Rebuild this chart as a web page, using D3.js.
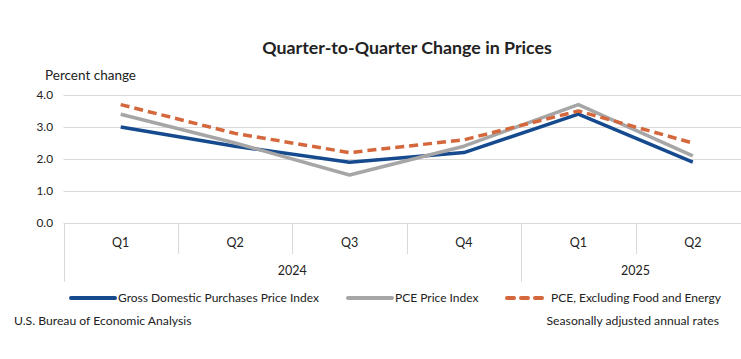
<!DOCTYPE html>
<html><head><meta charset="utf-8">
<script src="https://cdn.jsdelivr.net/npm/d3@7"></script>
<style>
body{margin:0;background:#fff;}
svg text{font-family:Lato,"Open Sans",sans-serif;fill:#222;}
</style></head>
<body><svg id="c" width="741" height="359"></svg>
<script>
const quarters = ["Q1","Q2","Q3","Q4","Q1","Q2"];
const years = [{label:"2024", n:4},{label:"2025", n:2}];
const gdpPurchases = [3.0, 2.4, 1.9, 2.2, 3.4, 1.9];
const pce = [3.4, 2.5, 1.5, 2.4, 3.7, 2.1];
const pceCore = [3.7, 2.8, 2.2, 2.6, 3.5, 2.5];
const yTicks = [0, 1, 2, 3, 4];
const seriesNames = ["Gross Domestic Purchases Price Index","PCE Price Index","PCE, Excluding Food and Energy"];
const colors = ["#164a8e","#a6a6a6","#d4673c"];

(function(){
const svg = d3.select("#c");
const pLeft = 63.5, pRight = 750, pTop = 95, pBottom = 223;
const idx = d3.range(quarters.length);
const x = d3.scaleBand().domain(idx).range([pLeft, pRight]);
const y = d3.scaleLinear().domain([0,4]).range([pBottom, pTop]);

svg.append("text").attr("x",407).attr("y",54).attr("text-anchor","middle")
  .style("font-weight","bold").style("font-size","17.8px").text("Quarter-to-Quarter Change in Prices");
svg.append("text").attr("x",45).attr("y",80).style("font-size","13.5px").text("Percent change");

svg.append("g").selectAll("line").data(yTicks.filter(d=>d>0)).join("line")
  .attr("x1",pLeft).attr("x2",pRight).attr("y1",d=>y(d)+0.5).attr("y2",d=>y(d)+0.5)
  .attr("stroke","#d9d9d9").attr("stroke-width",1);
svg.append("g").selectAll("text").data(yTicks).join("text")
  .attr("x",53).attr("y",d=>y(d)+4).attr("text-anchor","end").style("font-size","11.8px")
  .text(d=>d.toFixed(1));

const ax = svg.append("g");
ax.append("line").attr("x1",pLeft).attr("x2",pRight).attr("y1",pBottom+0.5).attr("y2",pBottom+0.5).attr("stroke","#d9d9d9");
let start = 0;
const yearBounds = [0];
years.forEach(yr=>{start+=yr.n; yearBounds.push(start);});
idx.forEach(i=>{
  const xb = x(i);
  const isYear = yearBounds.includes(i);
  ax.append("line").attr("x1",Math.round(xb)+0.5).attr("x2",Math.round(xb)+0.5)
    .attr("y1",pBottom).attr("y2",isYear?282:254).attr("stroke","#d9d9d9");
});
ax.selectAll("text.q").data(idx).join("text").attr("class","q")
  .attr("x",i=>x(i)+x.bandwidth()/2).attr("y",247).attr("text-anchor","middle").style("font-size","12.5px")
  .text(i=>quarters[i]);
let s = 0;
years.forEach(yr=>{
  const x0 = x(s), x1 = s+yr.n < quarters.length ? x(s+yr.n) : pRight;
  svg.append("text").attr("x",(x0+x1)/2).attr("y",275).attr("text-anchor","middle").style("font-size","12.5px").text(yr.label);
  s += yr.n;
});

const data = [gdpPurchases, pce, pceCore];
const line = d3.line().x((d,i)=>x(i)+x.bandwidth()/2).y(d=>y(d));
data.forEach((vals,k)=>{
  svg.append("path").attr("d",line(vals)).attr("fill","none").attr("stroke",colors[k])
    .attr("stroke-width",3.5).attr("stroke-linejoin","round")
    .attr("stroke-dasharray",k===2?"9,5":null);
});

const legX = [71, 348, 507];
seriesNames.forEach((n,k)=>{
  svg.append("line").attr("x1",legX[k]).attr("x2",legX[k]+(k===2?41:44)).attr("y1",298).attr("y2",298)
    .attr("stroke",colors[k]).attr("stroke-width",4).attr("stroke-linecap","round")
    .attr("stroke-dasharray",k===2?"7,7":null);
  svg.append("text").attr("x",legX[k]+(k===2?44:47)).attr("y",302).style("font-size","12px").text(n);
});
svg.append("text").attr("x",14).attr("y",325).style("font-size","12.2px").text("U.S. Bureau of Economic Analysis");
svg.append("text").attr("x",719).attr("y",325).attr("text-anchor","end").style("font-size","12.2px").text("Seasonally adjusted annual rates");
})();
</script></body></html>
